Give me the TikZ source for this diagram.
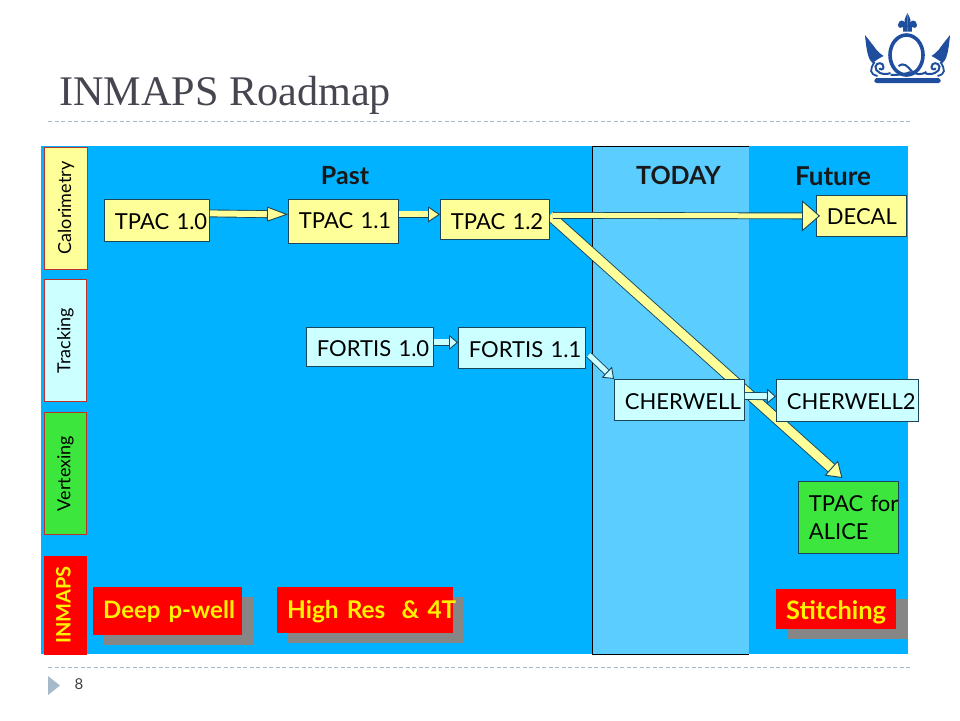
\documentclass[tikz,border=0pt]{standalone}
\usepackage{fontspec}
\setmainfont{Lato}
\newfontfamily\titlefont{Liberation Serif}
\usetikzlibrary{arrows.meta,shadows,backgrounds}
\definecolor{panelblue}{RGB}{0,178,255}
\definecolor{todayblue}{RGB}{91,205,255}
\definecolor{paleyellow}{RGB}{255,255,153}
\definecolor{palecyan}{RGB}{204,255,255}
\definecolor{leafgreen}{RGB}{61,230,61}
\definecolor{edgeteal}{RGB}{25,70,90}
\definecolor{sidered}{RGB}{190,50,40}
\definecolor{ruleblue}{RGB}{165,185,200}
\definecolor{crownblue}{RGB}{32,78,158}
\definecolor{titlegrey}{RGB}{70,70,80}
\tikzset{
	textsize/.style={font=\fontsize{#1}{#1}\selectfont},
	sidelabel/.style={draw=sidered,line width=1pt,anchor=north west,inner sep=0pt,minimum width=42pt},
	sidetext/.style={rotate=90,textsize=18},
	stagebox/.style={draw=edgeteal,line width=.8pt,anchor=north west,align=left,inner ysep=0pt,inner xsep=10.5pt,
		text height=18pt,text depth=0pt,textsize=22},
	redbox/.style={fill=red,text=yellow,anchor=north west,align=left,inner ysep=0pt,inner xsep=10pt,
		font=\fontsize{#1}{#1}\selectfont\bfseries,
		drop shadow={shadow xshift=11pt,shadow yshift=-10pt,fill=gray!95,opacity=1}},
	heading/.style={font=\fontsize{#1}{#1}\selectfont\bfseries,text=black!90},
	yellowarrow/.style n args={3}{draw=edgeteal,line width=.9pt,double=paleyellow,double distance=#1,
		-{Triangle[length=#2,width=#3,fill=paleyellow,line width=.9pt]}},
	cyanarrow/.style n args={3}{draw=edgeteal,line width=.9pt,double=palecyan,double distance=#1,
		-{Triangle[length=#2,width=#3,fill=palecyan,line width=.9pt]}},
	rule/.style={draw=ruleblue,line width=.7pt,dash pattern=on 4pt off 2.5pt}
}
\begin{document}
\begin{tikzpicture}[x=1pt,y=-1pt]
	\useasboundingbox (0,0) rectangle (960,720);

	\node[anchor=base west,inner sep=0pt,text=titlegrey,font=\titlefont\fontsize{42.2}{42}\selectfont] (title) at (59,105) {INMAPS Roadmap};
	\coordinate (topl) at (48,121);
	\coordinate (topr) at (912,121);
	\draw[rule] (topl) -- (topr);
	\coordinate (botl) at (48,667);
	\coordinate (botr) at (912,667);
	\draw[rule] (botl) -- (botr);
	\fill[ruleblue] (48,676) -- (60,685.5) -- (48,695) -- cycle;
	\node[textsize=15,text=black!75] (pageno) at (79,684) {8};

	\begin{scope}[shift={(907.5,0)},crownblue]
		\foreach \s in {1,-1} {
			\begin{scope}[xscale=\s]
				\fill (0,13) .. controls (1,16) and (3,18) .. (3,20) .. controls (3,23) and (2,25) .. (1.5,27) -- (0,27) -- cycle;
				\fill (1,25) .. controls (3,19) and (9,19) .. (9.5,25) .. controls (9.5,28) and (6,29) .. (4.3,27) -- (4.3,31.5) -- (0,31.5) -- (0,25) -- cycle;
				\fill (42.5,35) .. controls (37,42) and (33,47) .. (31,50) .. controls (29,53) and (26,54) .. (24,56) .. controls (28,58) and (31,60) .. (35,63) .. controls (39,60) and (41,52) .. (42.5,35) -- cycle;
				\draw[line width=2pt] (17,73) .. controls (24,76) and (33,72) .. (32,66.5) .. controls (31,62) and (24,62) .. (24,67) .. controls (24,70) and (28,70) .. (28,68);
				\draw[line width=1.8pt] (33,62) .. controls (38,70) and (38,74) .. (30,76);
			\end{scope}
		}
		\draw[line width=3.6pt] (-1,55) ellipse (16.5 and 20);
		\draw[line width=2pt] (-9,66) .. controls (-4,62) and (0,66) .. (4,71) .. controls (8,75) and (14,75) .. (19,72);
		\draw[line width=2pt] (-17,75) .. controls (-8,75) and (-2,74) .. (3,72);
		\fill (-31,78) -- (31,78) .. controls (34,80) and (34,82) .. (31,83) -- (-31,83) .. controls (-34,82) and (-34,80) .. (-31,78) -- cycle;
	\end{scope}

	\node[stagebox,fill=paleyellow,minimum height=42pt,text width=84pt] (tpac10) at (104,199) {\mbox{TPAC 1.0}};
	\node[stagebox,fill=paleyellow,minimum height=44pt,text width=89pt,text height=14pt] (tpac11) at (288,199) {\mbox{TPAC 1.1}};
	\node[stagebox,fill=paleyellow,minimum height=40pt,text width=88pt,text height=20pt] (tpac12) at (440,199) {\mbox{TPAC 1.2}};
	\node[stagebox,fill=paleyellow,minimum height=41pt,text width=69pt] (decal) at (816,195) {\mbox{DECAL}};
	\node[stagebox,fill=palecyan,minimum height=39pt,text width=106pt,text height=20pt] (fortis10) at (306,327) {\mbox{FORTIS 1.0}};
	\node[stagebox,fill=palecyan,minimum height=41pt,text width=106pt,text height=19pt] (fortis11) at (458,327) {\mbox{FORTIS 1.1}};
	\node[stagebox,fill=palecyan,minimum height=41pt,text width=109pt,text height=19pt] (cherwell) at (614,379) {\mbox{CHERWELL}};
	\node[stagebox,fill=palecyan,minimum height=42pt,text width=121pt] (cherwell2) at (776,379) {\mbox{CHERWELL2}};
	\node[stagebox,fill=leafgreen,minimum height=72pt,text width=79pt,text height=,text depth=] (alice) at (798,481) {\mbox{TPAC for}\\[6pt]ALICE};

	\node[redbox=24,minimum height=48pt,text width=129pt,text height=18pt,text depth=4pt] (deep) at (93,587) {\mbox{Deep p-well}};
	\node[redbox=24.4,minimum height=46pt,text width=156pt,text height=18pt,text depth=2pt] (highres) at (277,587) {\mbox{High Res\ \ \& 4T}};
	\node[redbox=25.4,minimum height=40pt,text width=100pt,text height=20pt,text depth=0pt] (stitch) at (776,589) {\mbox{Stitching}};

	\node[heading=25] (past) at (345,175.5) {Past};
	\node[heading=25] (today) at (678.5,175) {TODAY};
	\node[heading=26] (future) at (833,176) {Future};

	\draw[yellowarrow={6pt}{21pt}{15pt}] ([yshift=7pt]tpac10.east) -- ([yshift=7pt]tpac11.west);
	\draw[yellowarrow={6pt}{12pt}{16pt}] ([yshift=7pt]tpac11.east) -- ([yshift=5pt]tpac12.west);
	\draw[yellowarrow={5pt}{18pt}{31pt}] ([xshift=3pt,yshift=4pt]tpac12.east) -- ([xshift=4pt]decal.west);
	\draw[cyanarrow={6pt}{9pt}{15pt}] ([yshift=4.5pt]fortis10.east) -- ([yshift=5.5pt]fortis11.west);
	\draw[cyanarrow={5pt}{10pt}{15pt}] ([xshift=3pt,yshift=-7pt]fortis11.east) -- (cherwell.north west);
	\draw[cyanarrow={6pt}{9pt}{15pt}] ([yshift=4pt]cherwell.east) -- ([yshift=4pt]cherwell2.west);

	\begin{scope}[on background layer]
		\fill[panelblue] (41,146) rectangle (908,654);
		\fill[todayblue] (592.5,146) rectangle (749,654);
		\draw[black,line width=.8pt] (749,146) -- (592.5,146) -- (592.5,654) -- (749,654);
		\draw[yellowarrow={9pt}{15pt}{20pt}] ([yshift=4pt]tpac12.east) -- ([shift={(-6pt,3pt)}]alice.north);
	\end{scope}

	\node[sidelabel,fill=paleyellow,minimum width=43pt,minimum height=122pt] (calo) at (44,146.5) {};
	\node[sidetext] (calotext) at (calo.center) {Calorimetry};
	\node[sidelabel,fill=palecyan,minimum height=122pt] (track) at (44,279) {};
	\node[sidetext] (tracktext) at (track.center) {Tracking};
	\node[sidelabel,fill=leafgreen,minimum height=122pt] (vertex) at (44,412) {};
	\node[sidetext] (vertextext) at (vertex.center) {Vertexing};
	\node[sidelabel,draw=none,fill=red,minimum width=43pt,minimum height=99pt] (inmaps) at (43,555) {};
	\node[rotate=90,text=yellow,font=\fontsize{20}{20}\selectfont\bfseries,yshift=1.5pt] (inmapstext) at (inmaps.center) {INMAPS};
\end{tikzpicture}
\end{document}
